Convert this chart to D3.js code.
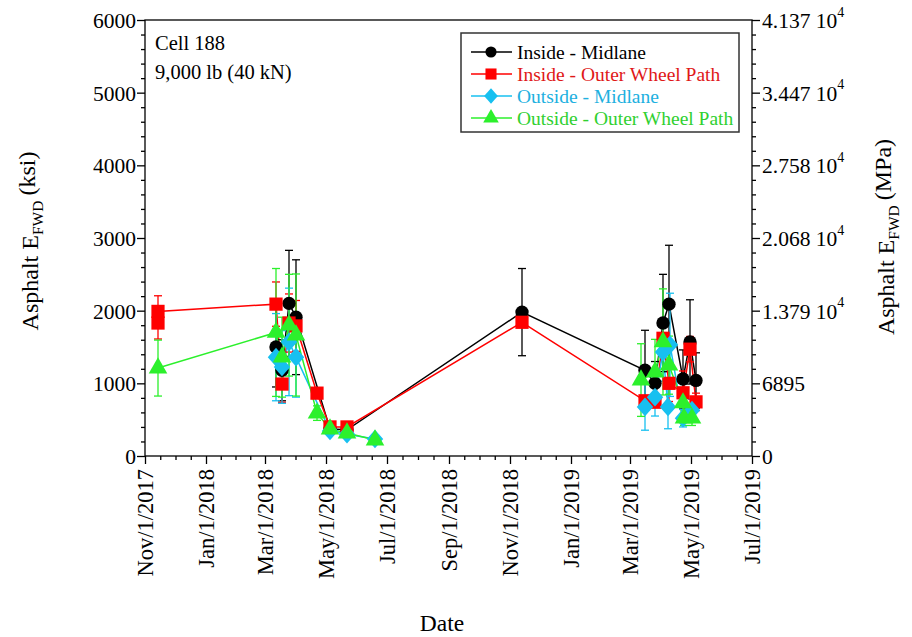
<!DOCTYPE html>
<html><head><meta charset="utf-8">
<script src="https://cdn.jsdelivr.net/npm/d3@7/dist/d3.min.js"></script>
<style>
body{margin:0;background:#fff;}
svg{display:block;font-family:"Liberation Serif","Times New Roman",serif;}
</style></head>
<body><svg id="chart" width="912" height="637"></svg>
<script>
// ---------- DATA ----------
const xTickDates = ["2017-11-01","2018-01-01","2018-03-01","2018-05-01","2018-07-01","2018-09-01","2018-11-01","2019-01-01","2019-03-01","2019-05-01","2019-07-01"];
const xTickLabels = ["Nov/1/2017","Jan/1/2018","Mar/1/2018","May/1/2018","Jul/1/2018","Sep/1/2018","Nov/1/2018","Jan/1/2019","Mar/1/2019","May/1/2019","Jul/1/2019"];
const yTicks = [0,1000,2000,3000,4000,5000,6000];
const yRightMantissa = ["0","6895","1.379 10","2.068 10","2.758 10","3.447 10","4.137 10"];
const yRightExponent = ["","","4","4","4","4","4"];

const seriesNames = ["Inside - Midlane","Inside - Outer Wheel Path","Outside - Midlane","Outside - Outer Wheel Path"];

const insideMidDates  = ["2018-03-12","2018-03-18","2018-03-25","2018-04-01","2018-05-05","2018-05-22","2018-11-13","2019-03-16","2019-03-26","2019-04-03","2019-04-09","2019-04-23","2019-04-30","2019-05-06"];
const insideMidValues = [1500,1180,2100,1910,370,360,1980,1180,1000,1830,2090,1060,1570,1040];
const insideMidErrors = [550,420,730,790,60,50,600,550,300,670,810,400,580,380];
const insideMidBreaks = [];

const insideOwpDates  = ["2017-11-14","2017-11-14","2018-03-12","2018-03-18","2018-03-25","2018-04-01","2018-04-22","2018-05-05","2018-05-22","2018-11-13","2019-03-16","2019-03-26","2019-04-03","2019-04-09","2019-04-23","2019-04-30","2019-05-06"];
const insideOwpValues = [1830,1990,2090,990,1830,1790,865,400,400,1840,760,740,1620,1000,870,1470,745];
const insideOwpErrors = [220,215,305,250,400,350,60,50,50,0,60,60,200,250,300,175,120];
const insideOwpBreaks = [];

const outsideMidDates  = ["2018-03-12","2018-03-18","2018-03-25","2018-04-01","2018-05-05","2018-05-22","2018-06-19","2019-03-16","2019-03-26","2019-04-03","2019-04-08","2019-04-10","2019-04-23","2019-05-02"];
const outsideMidValues = [1360,1225,1570,1360,345,300,234,675,810,1430,675,1530,520,630];
const outsideMidErrors = [600,500,740,550,40,40,30,320,260,400,300,710,120,150];
const outsideMidBreaks = ["2018-06-19"];

const outsideOwpDates  = ["2017-11-14","2018-03-12","2018-03-18","2018-03-25","2018-04-01","2018-04-22","2018-05-05","2018-05-22","2018-06-19","2019-03-12","2019-03-26","2019-04-03","2019-04-09","2019-04-23","2019-04-24","2019-05-02"];
const outsideOwpValues = [1210,1700,1360,1800,1665,590,370,316,220,1045,1155,1570,1250,730,520,520];
const outsideOwpErrors = [385,880,550,700,840,100,40,40,30,500,450,730,400,200,100,100];
const outsideOwpBreaks = ["2018-06-19"];

// ---------- SETUP ----------
const parse = d3.timeParse("%Y-%m-%d");
const svg = d3.select("#chart");
const L = 145, R = 752, T = 20, B = 456;
const x = d3.scaleTime().domain([parse("2017-11-01"), parse("2019-07-01")]).range([L, R]);
const y = d3.scaleLinear().domain([0, 6000]).range([B, T]);

const colors = ["#000000","#ff0000","#17c0f0","#2cf02c"];
const textColors = ["#000000","#e01818","#20b0e0","#30d030"];
const diamond = { draw(ctx, size) { const r = Math.sqrt(size / 2); ctx.moveTo(0, -r*1.08); ctx.lineTo(r*0.95, 0); ctx.lineTo(0, r*1.08); ctx.lineTo(-r*0.95, 0); ctx.closePath(); } };
const markers = [d3.symbolCircle, d3.symbolSquare, diamond, d3.symbolTriangle];
const markerSizes = [140, 175, 150, 150];

function build(dates, values, errors, breaks) {
  const out = [];
  dates.forEach((d, i) => {
    out.push({date: parse(d), v: values[i], e: errors[i]});
    if (breaks.includes(d)) out.push({gap: true});
  });
  return out;
}
const series = [
  build(insideMidDates, insideMidValues, insideMidErrors, insideMidBreaks),
  build(insideOwpDates, insideOwpValues, insideOwpErrors, insideOwpBreaks),
  build(outsideMidDates, outsideMidValues, outsideMidErrors, outsideMidBreaks),
  build(outsideOwpDates, outsideOwpValues, outsideOwpErrors, outsideOwpBreaks)
];
const pts = s => s.filter(d => !d.gap);

// ---------- AXES ----------
const tickDates = xTickDates.map(parse);
const minorDates = [];
for (let i = 0; i < tickDates.length - 1; i++) {
  const a = +tickDates[i], b = +tickDates[i+1];
  for (let k = 1; k < 4; k++) minorDates.push(new Date(a + (b - a) * k / 4));
}
const yMinor = d3.range(0, 6001, 200).filter(v => v % 1000 !== 0);

const axisStyle = g => {
  g.attr("font-family", null).attr("font-size", null);
  g.selectAll("path,line").attr("stroke","#000").attr("stroke-width",1.3);
  g.select(".domain").remove();
};

// bottom
svg.append("g").attr("transform",`translate(0,${B})`)
  .call(d3.axisBottom(x).tickValues(minorDates).tickSize(4).tickFormat(""))
  .call(axisStyle);
const xAxis = svg.append("g").attr("transform",`translate(0,${B})`)
  .call(d3.axisBottom(x).tickValues(tickDates).tickSize(8).tickFormat((d,i) => xTickLabels[i]))
  .call(axisStyle);
xAxis.selectAll("text")
  .attr("font-size", 22.5).attr("fill","#000")
  .attr("transform","rotate(-90)")
  .attr("text-anchor","end")
  .attr("x", -13).attr("y", 0).attr("dy","0.33em");

// left
svg.append("g").attr("transform",`translate(${L},0)`)
  .call(d3.axisLeft(y).tickValues(yMinor).tickSize(4).tickFormat(""))
  .call(axisStyle);
svg.append("g").attr("transform",`translate(${L},0)`)
  .call(d3.axisLeft(y).tickValues(yTicks).tickSize(8).tickFormat(d3.format("d")))
  .call(axisStyle)
  .selectAll("text").attr("font-size",21.5).attr("fill","#000").attr("x",-9).attr("dy","0.35em");

// right
svg.append("g").attr("transform",`translate(${R},0)`)
  .call(d3.axisRight(y).tickValues(yMinor).tickSize(4).tickFormat(""))
  .call(axisStyle);
const rAxis = svg.append("g").attr("transform",`translate(${R},0)`)
  .call(d3.axisRight(y).tickValues(yTicks).tickSize(8).tickFormat(""))
  .call(axisStyle);
rAxis.selectAll(".tick").each(function(d, i) {
  const t = d3.select(this).append("text").attr("x", 10).attr("dy","0.35em")
    .attr("font-size",21.5).attr("fill","#000").attr("text-anchor","start");
  t.append("tspan").text(yRightMantissa[i]);
  if (yRightExponent[i]) t.append("tspan").attr("font-size",14).attr("dy","-0.8em").text(yRightExponent[i]);
});

// frame
svg.append("rect").attr("x",L).attr("y",T).attr("width",R-L).attr("height",B-T)
  .attr("fill","none").attr("stroke","#000").attr("stroke-width",1.3);

// axis titles
function yTitle(cx, cy, unit) {
  const t = svg.append("text").attr("transform",`translate(${cx},${cy}) rotate(-90)`)
    .attr("text-anchor","middle").attr("font-size",24).attr("fill","#000");
  t.append("tspan").text("Asphalt E");
  t.append("tspan").attr("font-size",15.5).attr("dy","0.35em").text("FWD");
  t.append("tspan").attr("dy","-0.35em").attr("dx","5").text("(" + unit + ")");
}
yTitle(38, 241, "ksi");
yTitle(894, 237, "MPa");
svg.append("text").attr("x",442).attr("y",631).attr("text-anchor","middle").attr("font-size",23.5).text("Date");

// annotation
svg.append("text").attr("x",155).attr("y",50).attr("font-size",20.5).text("Cell 188");
svg.append("text").attr("x",155).attr("y",79).attr("font-size",20.5).text("9,000 lb (40 kN)");

// ---------- MARKS ----------
const line = d3.line().defined(d => !d.gap).x(d => x(d.date)).y(d => y(d.v));
const drawOrder = [0, 1, 2, 3];
drawOrder.forEach(si => {
  svg.append("path").datum(series[si]).attr("d", line)
    .attr("fill","none").attr("stroke", colors[si]).attr("stroke-width",1.5);
});
drawOrder.forEach(si => {
  const g = svg.append("g").attr("stroke", colors[si]).attr("stroke-width",1.3);
  pts(series[si]).filter(d => d.e > 0).forEach(d => {
    const cx = x(d.date), y1 = y(d.v + d.e), y0 = y(d.v - d.e);
    g.append("line").attr("x1",cx).attr("x2",cx).attr("y1",y1).attr("y2",y0);
    g.append("line").attr("x1",cx-4).attr("x2",cx+4).attr("y1",y1).attr("y2",y1);
    g.append("line").attr("x1",cx-4).attr("x2",cx+4).attr("y1",y0).attr("y2",y0);
  });
});
drawOrder.forEach(si => {
  const sym = d3.symbol().type(markers[si]).size(markerSizes[si]);
  svg.append("g").selectAll("path").data(pts(series[si])).join("path")
    .attr("transform", d => `translate(${x(d.date)},${y(d.v)})`)
    .attr("d", sym).attr("fill", colors[si]);
});

// ---------- LEGEND ----------
const lg = svg.append("g");
lg.append("rect").attr("x",461).attr("y",33).attr("width",278).attr("height",99)
  .attr("fill","#fff").attr("stroke","#333").attr("stroke-width",1.5);
seriesNames.forEach((name, i) => {
  const yy = 52 + i * 22;
  lg.append("line").attr("x1",471).attr("x2",512).attr("y1",yy).attr("y2",yy)
    .attr("stroke",colors[i]).attr("stroke-width",1.5);
  lg.append("path").attr("transform",`translate(491,${yy})`)
    .attr("d", d3.symbol().type(markers[i]).size(markerSizes[i]*0.7)).attr("fill",colors[i]);
  lg.append("text").attr("x",517).attr("y",yy).attr("dy","0.35em")
    .attr("font-size",19.5).attr("fill",textColors[i]).text(name);
});
</script></body></html>
